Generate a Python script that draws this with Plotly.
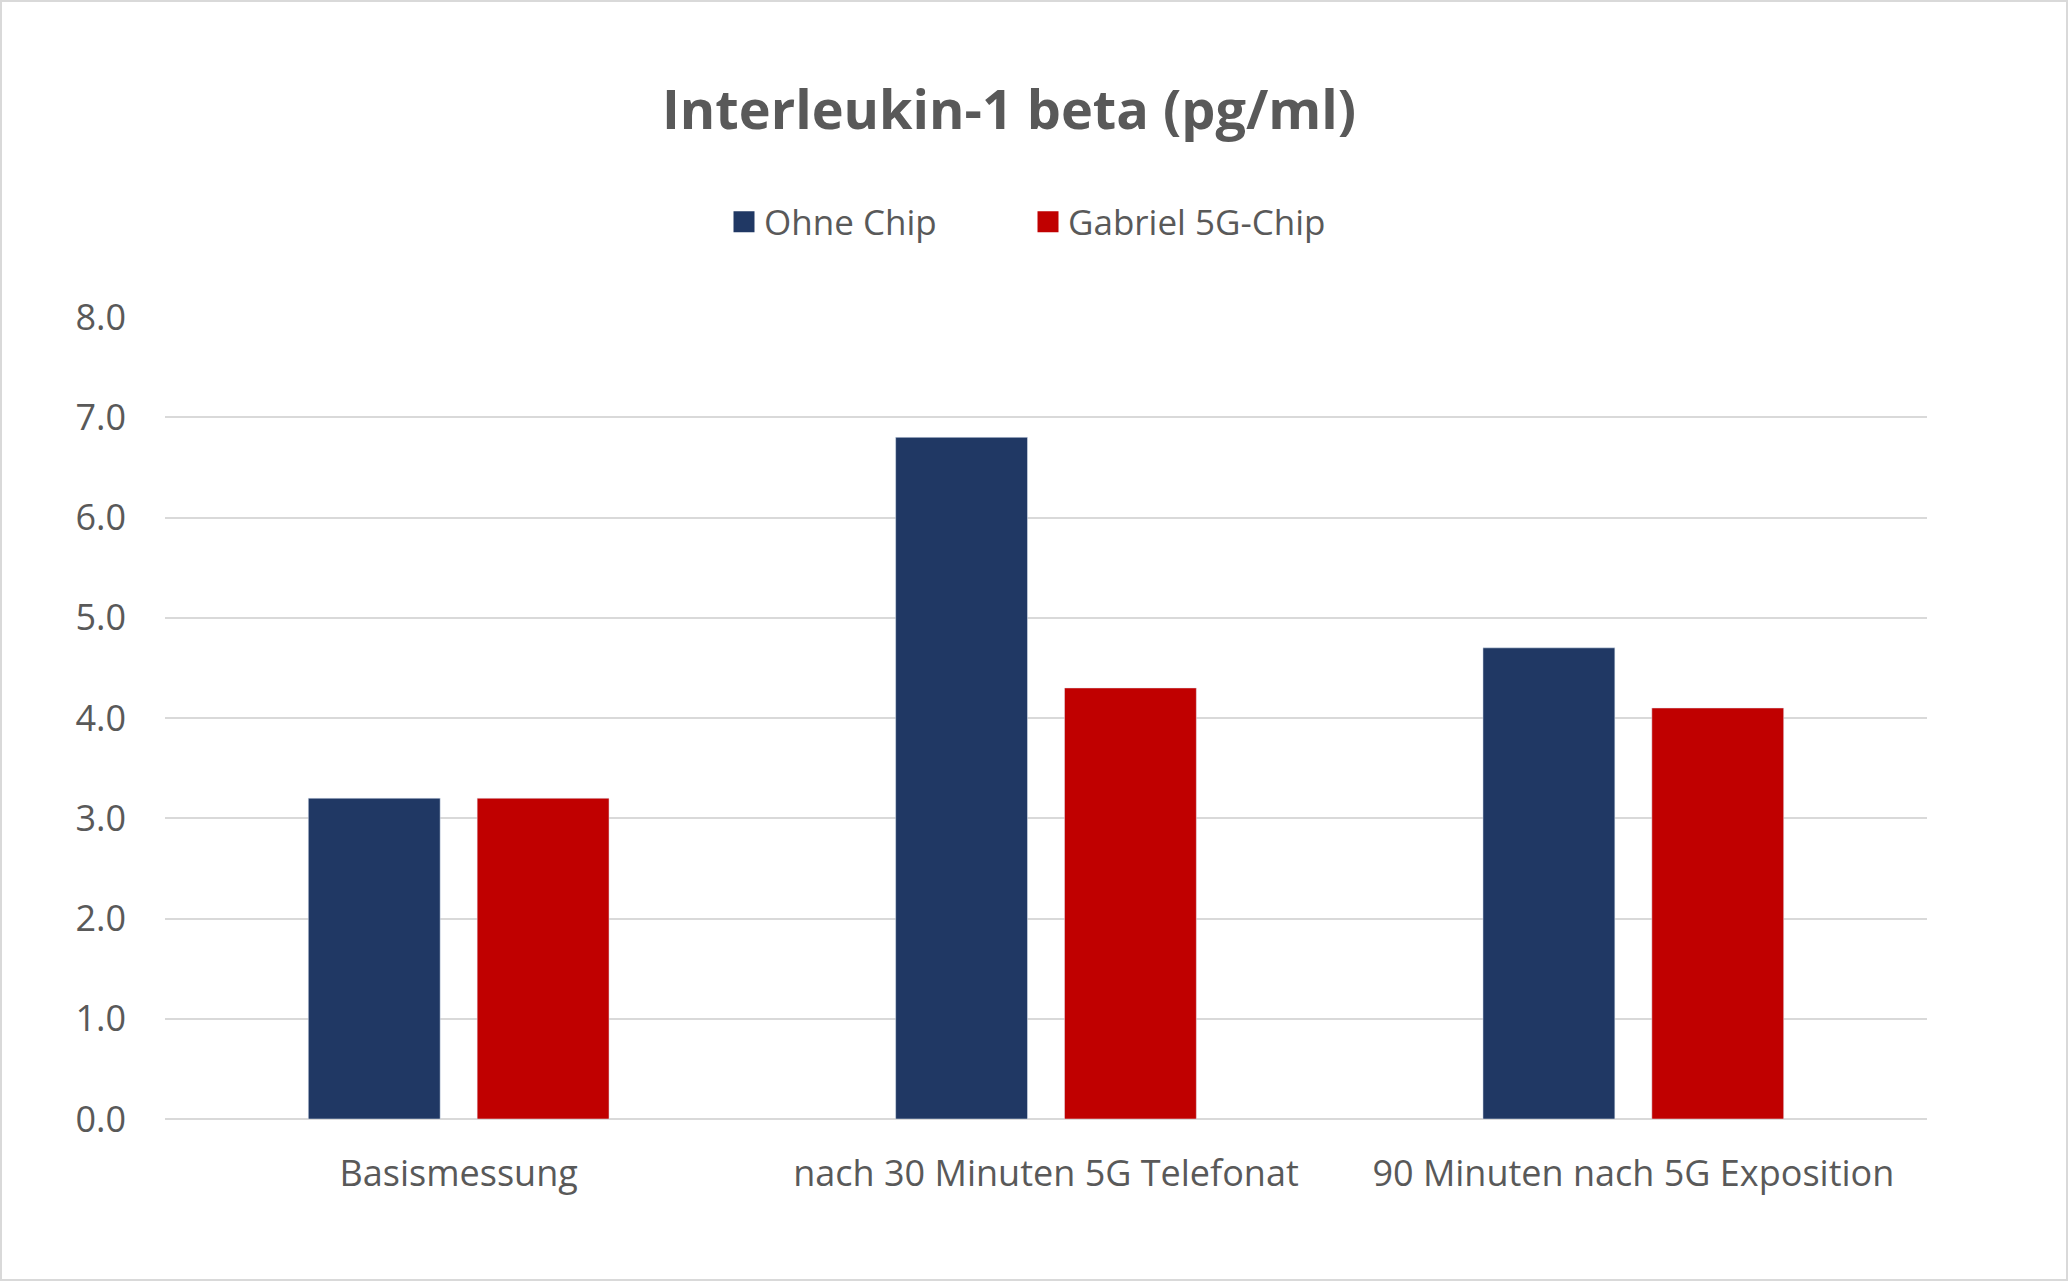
import plotly.graph_objects as go

categories = ["Basismessung", "nach 30 Minuten 5G Telefonat", "90 Minuten nach 5G Exposition"]
ohne_chip = [3.2, 6.8, 4.7]
gabriel_chip = [3.2, 4.3, 4.1]
series_names = ["Ohne Chip", "Gabriel 5G-Chip"]
series_colors = ["#203864", "#C00000"]
title_text = "Interleukin-1 beta (pg/ml)"

W, H = 2069, 1282
ML, MR, MT, MB = 165, 142, 317, 163
TXT = "#595959"
FONT = "Open Sans"

fig = go.Figure()
for name, vals, col in zip(series_names, [ohne_chip, gabriel_chip], series_colors):
    fig.add_trace(go.Bar(x=categories, y=vals, name=name, marker_color=col, showlegend=False,
                         legendgroup=name))
    # legend proxy with a larger square symbol
    fig.add_trace(go.Scatter(x=[categories[0]], y=[None], mode="markers", name=name, legendgroup=name,
                             marker=dict(symbol="square", size=16, color=col, line=dict(color=col, width=5)),
                             showlegend=True, hoverinfo="skip"))

pw, ph = W - ML - MR, H - MT - MB
fig.update_layout(
    width=W, height=H,
    margin=dict(l=ML, r=MR, t=MT, b=MB, autoexpand=False),
    paper_bgcolor="white", plot_bgcolor="white",
    barmode="group", bargap=0.425, bargroupgap=0.219,
    font=dict(family=FONT, color=TXT),
    title=dict(text="<b>" + title_text + "</b>", x=1009 / W, xanchor="center", y=1 - 110 / H, yanchor="middle",
               font=dict(size=54, color=TXT, family=FONT)),
    legend=dict(orientation="h", x=0.5 - 18 / pw, xanchor="center", y=1 - 222 / H, yref="container",
                yanchor="middle", font=dict(size=35, color=TXT, family=FONT), itemwidth=30,
                traceorder="normal", entrywidth=259, entrywidthmode="pixels"),
    xaxis=dict(showgrid=False, showline=False, ticks="", tickfont=dict(size=36, color=TXT),
               ticklabelstandoff=30),
    yaxis=dict(range=[0, 8], dtick=1, tickformat=".1f", showgrid=True, gridcolor="#D9D9D9", gridwidth=2,
               zeroline=True, zerolinecolor="#D9D9D9", zerolinewidth=2, showline=False,
               tickfont=dict(size=36, color=TXT), ticklabelstandoff=38),
    shapes=[dict(type="rect", xref="paper", yref="paper",
                 x0=-(ML - 1) / pw, x1=1 + (MR - 2) / pw, y0=-(MB - 2) / ph, y1=1 + (MT - 1) / ph,
                 line=dict(color="#D9D9D9", width=2), fillcolor="rgba(0,0,0,0)", layer="below")],
)
fig.write_html("out.html", config={"displayModeBar": False},
               post_script="document.body.style.margin='0';document.body.style.overflow='hidden';")
